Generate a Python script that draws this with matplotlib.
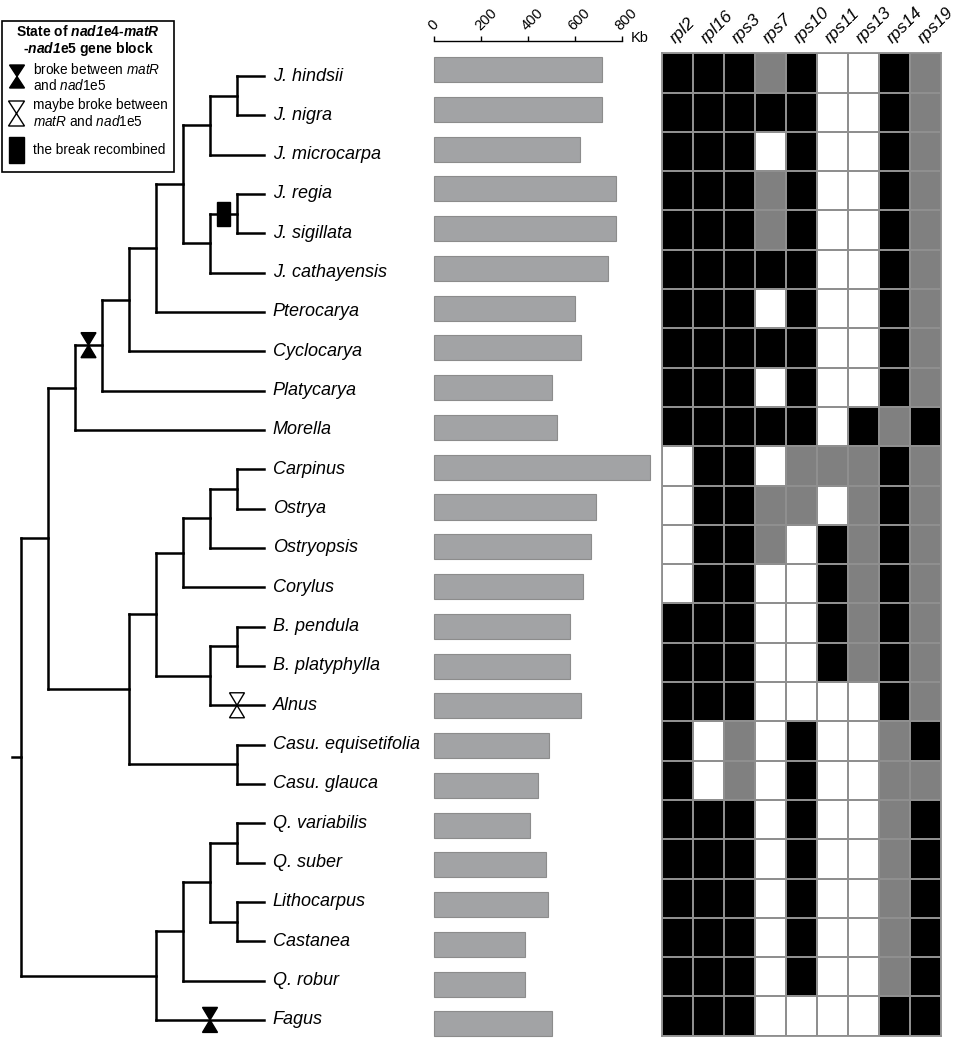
import numpy as np
import matplotlib
matplotlib.use("Agg")
import matplotlib.pyplot as plt
from matplotlib.colors import ListedColormap
from matplotlib.patches import Polygon, Rectangle
from matplotlib.transforms import ScaledTranslation

plt.rcParams['font.family'] = ['Liberation Sans', 'DejaVu Sans']
plt.rcParams['mathtext.fontset'] = 'custom'
plt.rcParams['mathtext.rm'] = 'Liberation Sans'
plt.rcParams['mathtext.it'] = 'Liberation Sans:italic'
plt.rcParams['mathtext.bf'] = 'Liberation Sans:bold'
plt.rcParams['mathtext.bfit'] = 'Liberation Sans:italic:bold'

# -- data ------------------------------------------------------------------
species = ["J. hindsii", "J. nigra", "J. microcarpa", "J. regia", "J. sigillata",
           "J. cathayensis", "Pterocarya", "Cyclocarya", "Platycarya", "Morella",
           "Carpinus", "Ostrya", "Ostryopsis", "Corylus", "B. pendula",
           "B. platyphylla", "Alnus", "Casu. equisetifolia", "Casu. glauca",
           "Q. variabilis", "Q. suber", "Lithocarpus", "Castanea", "Q. robur", "Fagus"]

# mitogenome size (Kb)
genome_kb = [715, 715, 622, 774, 777, 740, 602, 628, 502, 523,
             922, 689, 668, 635, 581, 581, 628, 491, 445,
             411, 479, 485, 387, 388, 504]

genes = ["rpl2", "rpl16", "rps3", "rps7", "rps10", "rps11", "rps13", "rps14", "rps19"]

# B = black, G = grey, W = white
gene_state = ["BBBGBWWBG", "BBBBBWWBG", "BBBWBWWBG", "BBBGBWWBG", "BBBGBWWBG",
              "BBBBBWWBG", "BBBWBWWBG", "BBBBBWWBG", "BBBWBWWBG", "BBBBBWBGB",
              "WBBWGGGBG", "WBBGGWGBG", "WBBGWBGBG", "WBBWWBGBG", "BBBWWBGBG",
              "BBBWWBGBG", "BBBWWWWBG", "BWGWBWWGB", "BWGWBWWGG",
              "BBBWBWWGB", "BBBWBWWGB", "BBBWBWWGB", "BBBWBWWGB", "BBBWBWWGB",
              "BBBWWWWBB"]

# cladogram
juglans = ((("J. hindsii", "J. nigra"), "J. microcarpa"),
           (("J. regia", "J. sigillata"), "J. cathayensis"))
juglandaceae = (((juglans, "Pterocarya"), "Cyclocarya"), "Platycarya")
betulaceae = (((("Carpinus", "Ostrya"), "Ostryopsis"), "Corylus"),
              (("B. pendula", "B. platyphylla"), "Alnus"))
casuarinaceae = ("Casu. equisetifolia", "Casu. glauca")
fagaceae = (((("Q. variabilis", "Q. suber"), ("Lithocarpus", "Castanea")), "Q. robur"), "Fagus")
tree = (((juglandaceae, "Morella"), (betulaceae, casuarinaceae)), fagaceae)

# branch events
events = [("broke", juglandaceae), ("broke", "Fagus"),
          ("maybe", "Alnus"), ("recombined", ("J. regia", "J. sigillata"))]

# -- figure ----------------------------------------------------------------
W, H = 957, 1039
fig = plt.figure(figsize=(W / 100, H / 100), dpi=100)

def px_axes(x0, y0, x1, y1):
    return fig.add_axes([x0 / W, 1 - y1 / H, (x1 - x0) / W, (y1 - y0) / H])

# tree
LX = 27.0      # px per level
RY = 39.33     # px per row
ax_t = px_axes(0, 0, 430, H)
ax_t.set_xlim(-264 / LX, (430 - 264) / LX)
ax_t.set_ylim((H - 76) / RY, -76 / RY)
ax_t.axis('off')

pos = {}
parent_x = {}
line_kw = dict(color='black', lw=1.8, solid_capstyle='projecting')

def place(node):
    if isinstance(node, str):
        pos[node] = (0.0, species.index(node))
        return pos[node]
    kids = [place(c) for c in node]
    x = min(k[0] for k in kids) - 1
    y = (kids[0][1] + kids[-1][1]) / 2
    ax_t.plot([x, x], [kids[0][1], kids[-1][1]], **line_kw)
    for c, (kx, ky) in zip(node, kids):
        ax_t.plot([x, kx], [ky, ky], **line_kw)
        parent_x[c] = x
    pos[node] = (x, y)
    return x, y

rx, ry = place(tree)
ax_t.plot([rx - 0.33, rx], [ry, ry], **line_kw)

for i, name in enumerate(species):
    ax_t.text(0.32, i, name, style='italic', fontsize=13, va='center', ha='left')

def hourglass(ax, cx, cy, hw, hh, filled, lw=1.0):
    pts = [(cx - hw, cy - hh), (cx + hw, cy - hh), (cx - hw, cy + hh), (cx + hw, cy + hh)]
    ax.add_patch(Polygon(pts, closed=True, facecolor='black' if filled else 'white',
                         edgecolor='black', lw=lw, zorder=5))

for kind, node in events:
    cx = (parent_x[node] + pos[node][0]) / 2
    cy = pos[node][1]
    if kind == "recombined":
        ax_t.add_patch(Rectangle((cx - 6.5 / LX, cy - 12 / RY), 13 / LX, 24 / RY,
                                 facecolor='black', edgecolor='black', zorder=5))
    else:
        hourglass(ax_t, cx, cy, 7.5 / LX, 12.5 / RY, kind == "broke")

# legend (pixel coordinates)
ax_l = fig.add_axes([0, 0, 1, 1])
ax_l.set_xlim(0, W)
ax_l.set_ylim(H, 0)
ax_l.axis('off')
ax_l.add_patch(Rectangle((2, 21), 172, 151, facecolor='none', edgecolor='black', lw=1.2))
ax_l.text(88, 32, r"State of $\mathbfit{nad1}$e4-$\mathbfit{matR}$", fontweight='bold',
          fontsize=10, ha='center', va='center')
ax_l.text(88, 49, r"-$\mathbfit{nad1}$e5 gene block", fontweight='bold',
          fontsize=10, ha='center', va='center')
hourglass(ax_l, 17, 76.5, 7.5, 11.5, True)
ax_l.text(33, 70, r"broke between $\mathit{matR}$", fontsize=9.8, va='center')
ax_l.text(33, 86, r"and $\mathit{nad1}$e5", fontsize=9.8, va='center')
hourglass(ax_l, 16.5, 113.5, 8, 12.5, False)
ax_l.text(33, 105, "maybe broke between", fontsize=9.8, va='center')
ax_l.text(33, 121, r"$\mathit{matR}$ and $\mathit{nad1}$e5", fontsize=9.8, va='center')
ax_l.add_patch(Rectangle((9, 137), 15, 26, facecolor='black', edgecolor='black'))
ax_l.text(33, 150, "the break recombined", fontsize=9.8, va='center')

# genome size bars
ax_b = px_axes(434, 41, 621.7, 1035.9)
ax_b.barh(np.arange(len(species)), genome_kb, height=0.63, color='#a2a3a5',
          edgecolor='#8c8c8c', linewidth=0.8, clip_on=False)
ax_b.set_xlim(0, 800)
ax_b.set_ylim(24.3, -0.717)
for s in ['bottom', 'left', 'right']:
    ax_b.spines[s].set_visible(False)
ax_b.spines['top'].set_linewidth(1.0)
ax_b.set_yticks([])
ax_b.xaxis.tick_top()
ax_b.set_xticks([0, 200, 400, 600, 800])
ax_b.set_xticklabels(['0', '200', '400', '600', '800'], rotation=45, ha='left',
                     rotation_mode='anchor', fontsize=10.5)
ax_b.tick_params(axis='x', direction='out', length=3.6, width=1.0, pad=2)
for lab in ax_b.get_xticklabels():
    lab.set_transform(lab.get_transform() + ScaledTranslation(1 / 100, 0, fig.dpi_scale_trans))
ax_b.text(631, 37.5, "Kb", fontsize=10.5, va='center', ha='left',
          transform=ax_l.transData)

# gene presence heatmap
state_code = {"W": 0, "G": 1, "B": 2}
mat = np.array([[state_code[c] for c in row] for row in gene_state])
cmap = ListedColormap(['white', '#808080', 'black'])
ax_h = px_axes(661.7, 53.3, 940.7, 1035.8)
ax_h.pcolormesh(np.arange(len(genes) + 1) - 0.5, np.arange(len(species) + 1) - 0.5, mat,
                cmap=cmap, vmin=0, vmax=2, edgecolors='#8f8f8f', linewidth=1.3)
ax_h.set_xlim(-0.5, len(genes) - 0.5)
ax_h.set_ylim(len(species) - 0.5, -0.5)
for s in ax_h.spines.values():
    s.set_color('#8f8f8f')
    s.set_linewidth(1.3)
ax_h.set_yticks([])
ax_h.xaxis.tick_top()
ax_h.set_xticks(np.arange(len(genes)))
ax_h.set_xticklabels(genes, rotation=45, ha='left', rotation_mode='anchor',
                     fontsize=12.5, style='italic')
ax_h.tick_params(axis='x', length=0, pad=5)
for lab in ax_h.get_xticklabels():
    lab.set_transform(lab.get_transform() + ScaledTranslation(1 / 100, 0, fig.dpi_scale_trans))

fig.savefig("out.png", dpi=100)
